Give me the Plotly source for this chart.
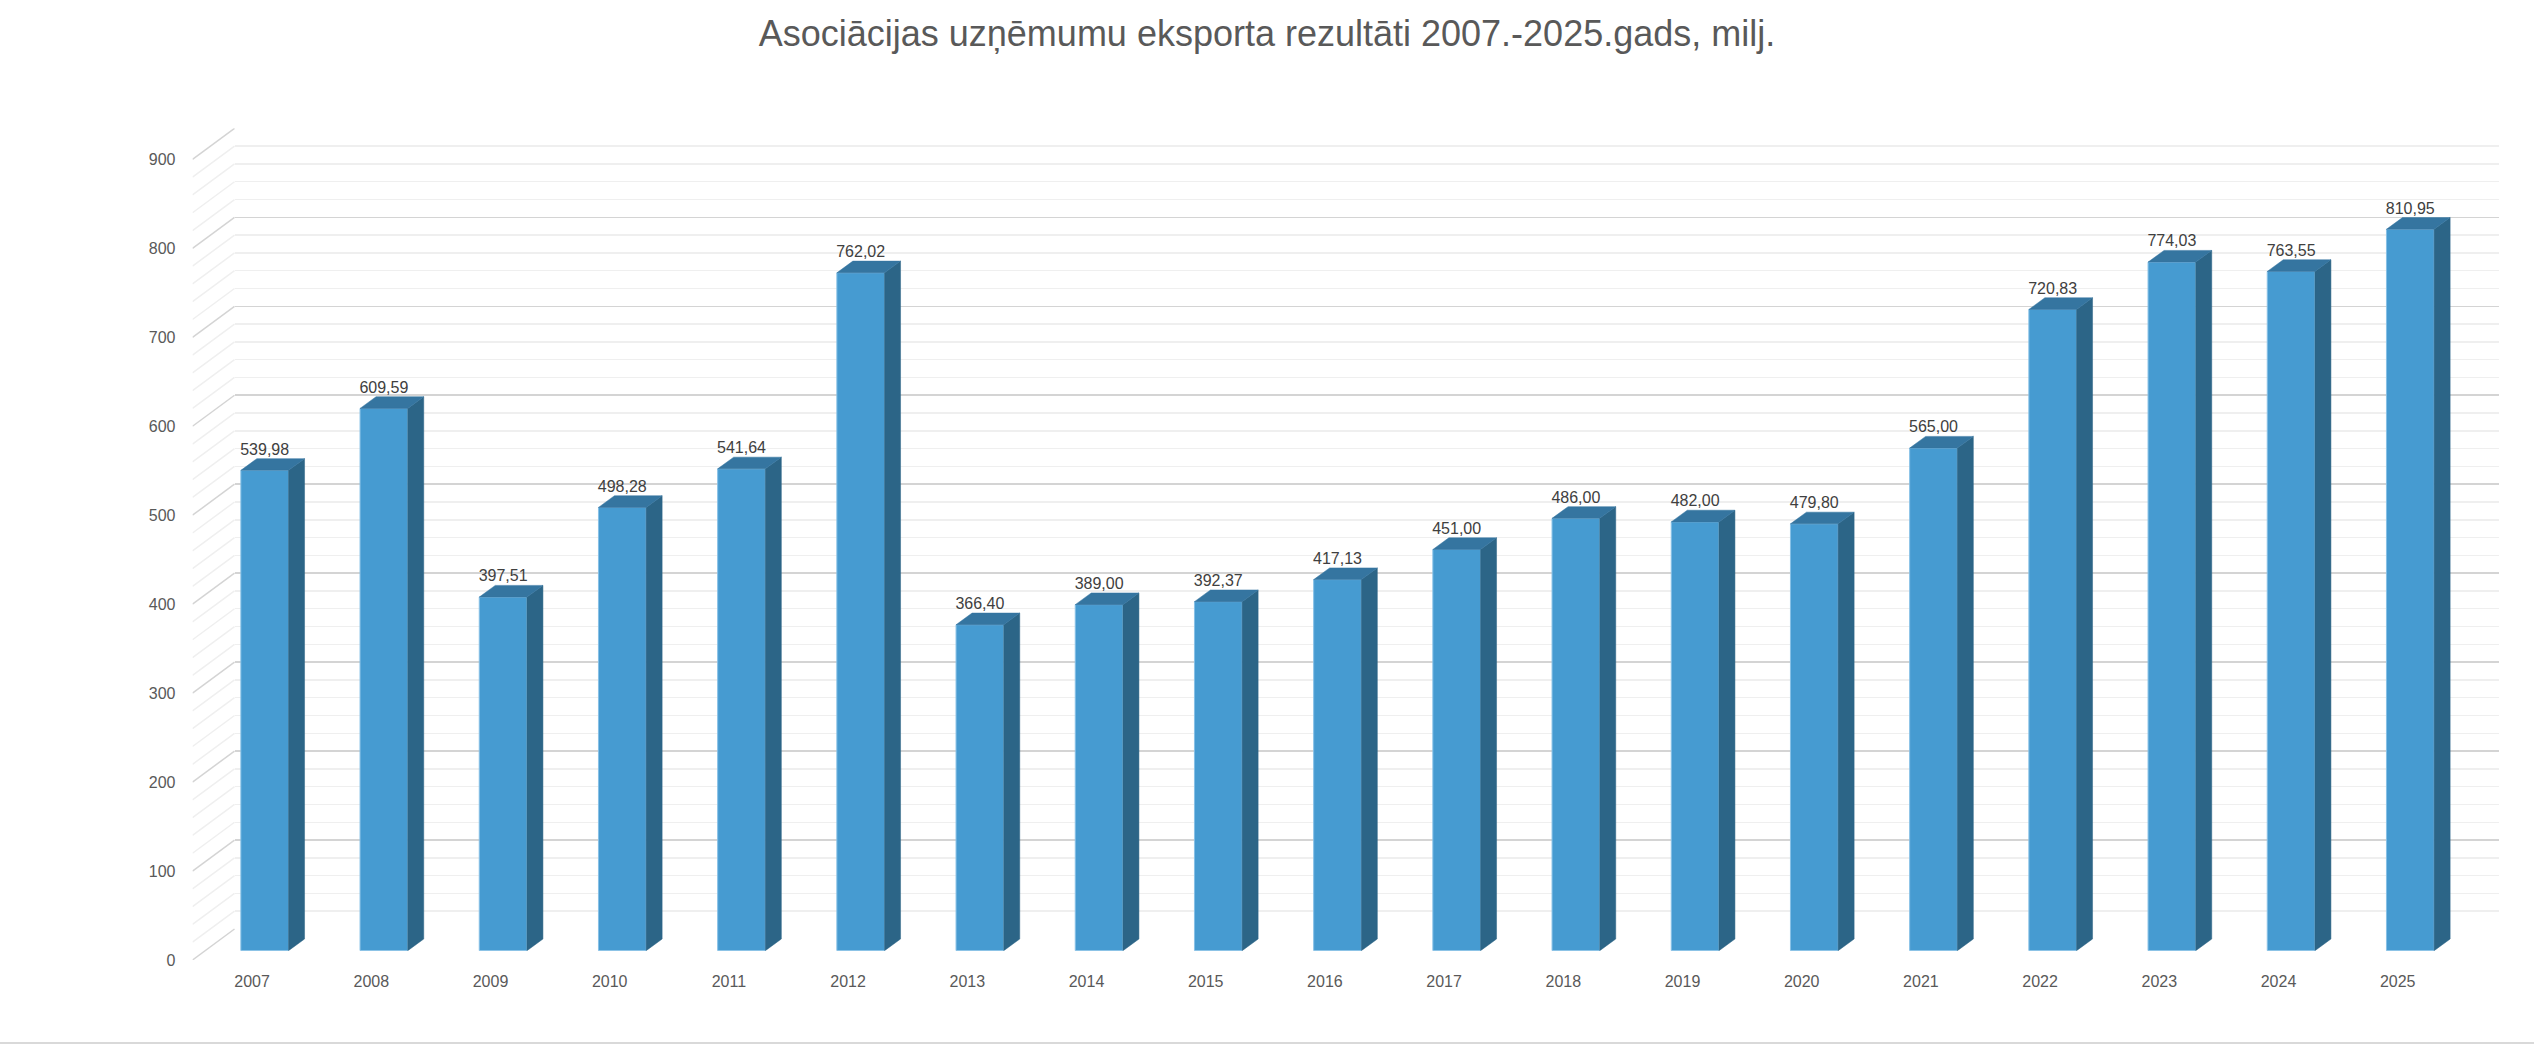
import plotly.graph_objects as go

# data
years = ['2007', '2008', '2009', '2010', '2011', '2012', '2013', '2014', '2015', '2016',
         '2017', '2018', '2019', '2020', '2021', '2022', '2023', '2024', '2025']
values = [539.98, 609.59, 397.51, 498.28, 541.64, 762.02, 366.40, 389.00, 392.37, 417.13,
          451.00, 486.00, 482.00, 479.80, 565.00, 720.83, 774.03, 763.55, 810.95]
y_ticks = [0, 100, 200, 300, 400, 500, 600, 700, 800, 900]

title = 'Asociācijas uzņēmumu eksporta rezultāti 2007.-2025.gads, milj.'

# geometry of the fake 3d box (pixels)
W, H = 2534, 1044
SLOT = 119.2          # px per category
UNIT = 0.8896         # px per value unit
LEFT, FLOOR = 192.5, 960
WALL_DX, WALL_DY = 42, 31     # depth of back wall
BAR_DX, BAR_DY = 12.6, 9.3    # bar front plane offset
DEP_DX, DEP_DY = 16, 11.7     # bar depth
BAR_W = 0.40
YMAX = 900

FONT = 'Liberation Sans, Arial, sans-serif'
FRONT = '#469BD1'
SIDE = '#2C6587'
TOP = '#3575A0'


def fx(px):
    return px / W


def fy(py):
    return 1 - py / H


n = len(years)
idx = list(range(n))
wall_xu = WALL_DX / SLOT
wall_yu = WALL_DY / UNIT
dep_xu = DEP_DX / SLOT
dep_yu = DEP_DY / UNIT

front_right = LEFT + (n + wall_xu) * SLOT
front_top = FLOOR - (YMAX * UNIT + WALL_DY)

fig = go.Figure()

# empty trace so the back wall subplot (x/y) gets drawn with its grid
fig.add_trace(go.Scatter(x=[], y=[], xaxis='x', yaxis='y', showlegend=False, hoverinfo='skip'))

# diagonal lines on the left side wall (front axes x2/y2)
for step, col in [(20, '#EFEFEF'), (100, '#D4D4D4')]:
    xs, ys = [], []
    for v in range(0, YMAX + 1, step):
        if step == 20 and v % 100 == 0:
            continue
        xs += [-0.5, -0.5 + wall_xu, None]
        ys += [v, v + wall_yu, None]
    fig.add_trace(go.Scatter(x=xs, y=ys, mode='lines', line=dict(color=col, width=1.5),
                             xaxis='x2', yaxis='y2', hoverinfo='skip', showlegend=False))

# front faces
fig.add_trace(go.Bar(x=idx, y=values, width=BAR_W, xaxis='x3', yaxis='y3',
                     marker=dict(color=FRONT, line=dict(color='#86C0E6', width=1)),
                     showlegend=False))

# side and top faces
sx, sy, tx, ty = [], [], [], []
for i, v in zip(idx, values):
    xr = i + BAR_W / 2
    xl = i - BAR_W / 2
    sx += [xr, xr + dep_xu, xr + dep_xu, xr, xr, None]
    sy += [0, dep_yu, v + dep_yu, v, 0, None]
    tx += [xl, xr, xr + dep_xu, xl + dep_xu, xl, None]
    ty += [v, v, v + dep_yu, v + dep_yu, v, None]
fig.add_trace(go.Scatter(x=sx, y=sy, mode='lines', fill='toself', fillcolor=SIDE,
                         line=dict(color=SIDE, width=0.5), xaxis='x3', yaxis='y3',
                         hoverinfo='skip', showlegend=False))
fig.add_trace(go.Scatter(x=tx, y=ty, mode='lines', fill='toself', fillcolor=TOP,
                         line=dict(color=TOP, width=0.5), xaxis='x3', yaxis='y3',
                         hoverinfo='skip', showlegend=False))

# data labels
labels = [f'{v:.2f}'.replace('.', ',') for v in values]
fig.add_trace(go.Scatter(x=idx, y=[v + dep_yu for v in values], mode='text', text=labels,
                         textposition='top center', cliponaxis=False,
                         textfont=dict(family=FONT, size=16, color='#404040'),
                         xaxis='x3', yaxis='y3', hoverinfo='skip', showlegend=False))

fig.update_layout(
    width=W, height=H,
    margin=dict(l=0, r=0, t=0, b=0, pad=0, autoexpand=False),
    paper_bgcolor='white', plot_bgcolor='rgba(0,0,0,0)',
    font=dict(family=FONT, color='#595959'),
    title=dict(text=title, x=0.5, xanchor='center', y=fy(33), yanchor='middle',
               yref='container', font=dict(family=FONT, size=36, color='#595959')),
    # back wall with gridlines
    xaxis=dict(domain=[fx(LEFT + WALL_DX), fx(LEFT + WALL_DX + n * SLOT)], range=[-0.5, n - 0.5],
               anchor='y', showgrid=False, showticklabels=False, zeroline=False,
               showline=False, ticks='', automargin=False),
    yaxis=dict(domain=[fy(FLOOR - WALL_DY), fy(FLOOR - WALL_DY - YMAX * UNIT)], range=[0, YMAX],
               anchor='x', showgrid=True, gridcolor='#D4D4D4', gridwidth=1.5, dtick=100,
               minor=dict(dtick=20, showgrid=True, gridcolor='#EFEFEF', gridwidth=1.5),
               showticklabels=False, zeroline=False, showline=False, ticks='', automargin=False),
    # front plane with tick labels
    xaxis2=dict(domain=[fx(LEFT), fx(front_right)], range=[-0.5, n - 0.5 + wall_xu],
                anchor='y2', tickmode='array', tickvals=idx, ticktext=years,
                showgrid=False, zeroline=False, showline=False, ticks='', automargin=False,
                ticklabelstandoff=10, tickfont=dict(family=FONT, size=16, color='#595959')),
    yaxis2=dict(domain=[fy(FLOOR), fy(front_top)], range=[0, YMAX + wall_yu],
                anchor='x2', tickmode='array', tickvals=y_ticks,
                showgrid=False, zeroline=False, showline=False, ticks='', automargin=False,
                ticklabelstandoff=16, tickfont=dict(family=FONT, size=16, color='#595959')),
    # bar plane
    xaxis3=dict(domain=[fx(LEFT + BAR_DX), fx(front_right + BAR_DX)],
                range=[-0.5, n - 0.5 + wall_xu], anchor='y3', visible=False, automargin=False),
    yaxis3=dict(domain=[fy(FLOOR - BAR_DY), fy(front_top - BAR_DY)],
                range=[0, YMAX + wall_yu], anchor='x3', visible=False, automargin=False),
    shapes=[dict(type='line', xref='paper', yref='paper', x0=0, x1=1, y0=1 / H, y1=1 / H,
                 line=dict(color='#D9D9D9', width=2))],
)

# static plot, page without body margin
fig.write_html('out.html', config={'staticPlot': True},
               post_script="document.body.style.margin='0';document.body.style.overflow='hidden';")
